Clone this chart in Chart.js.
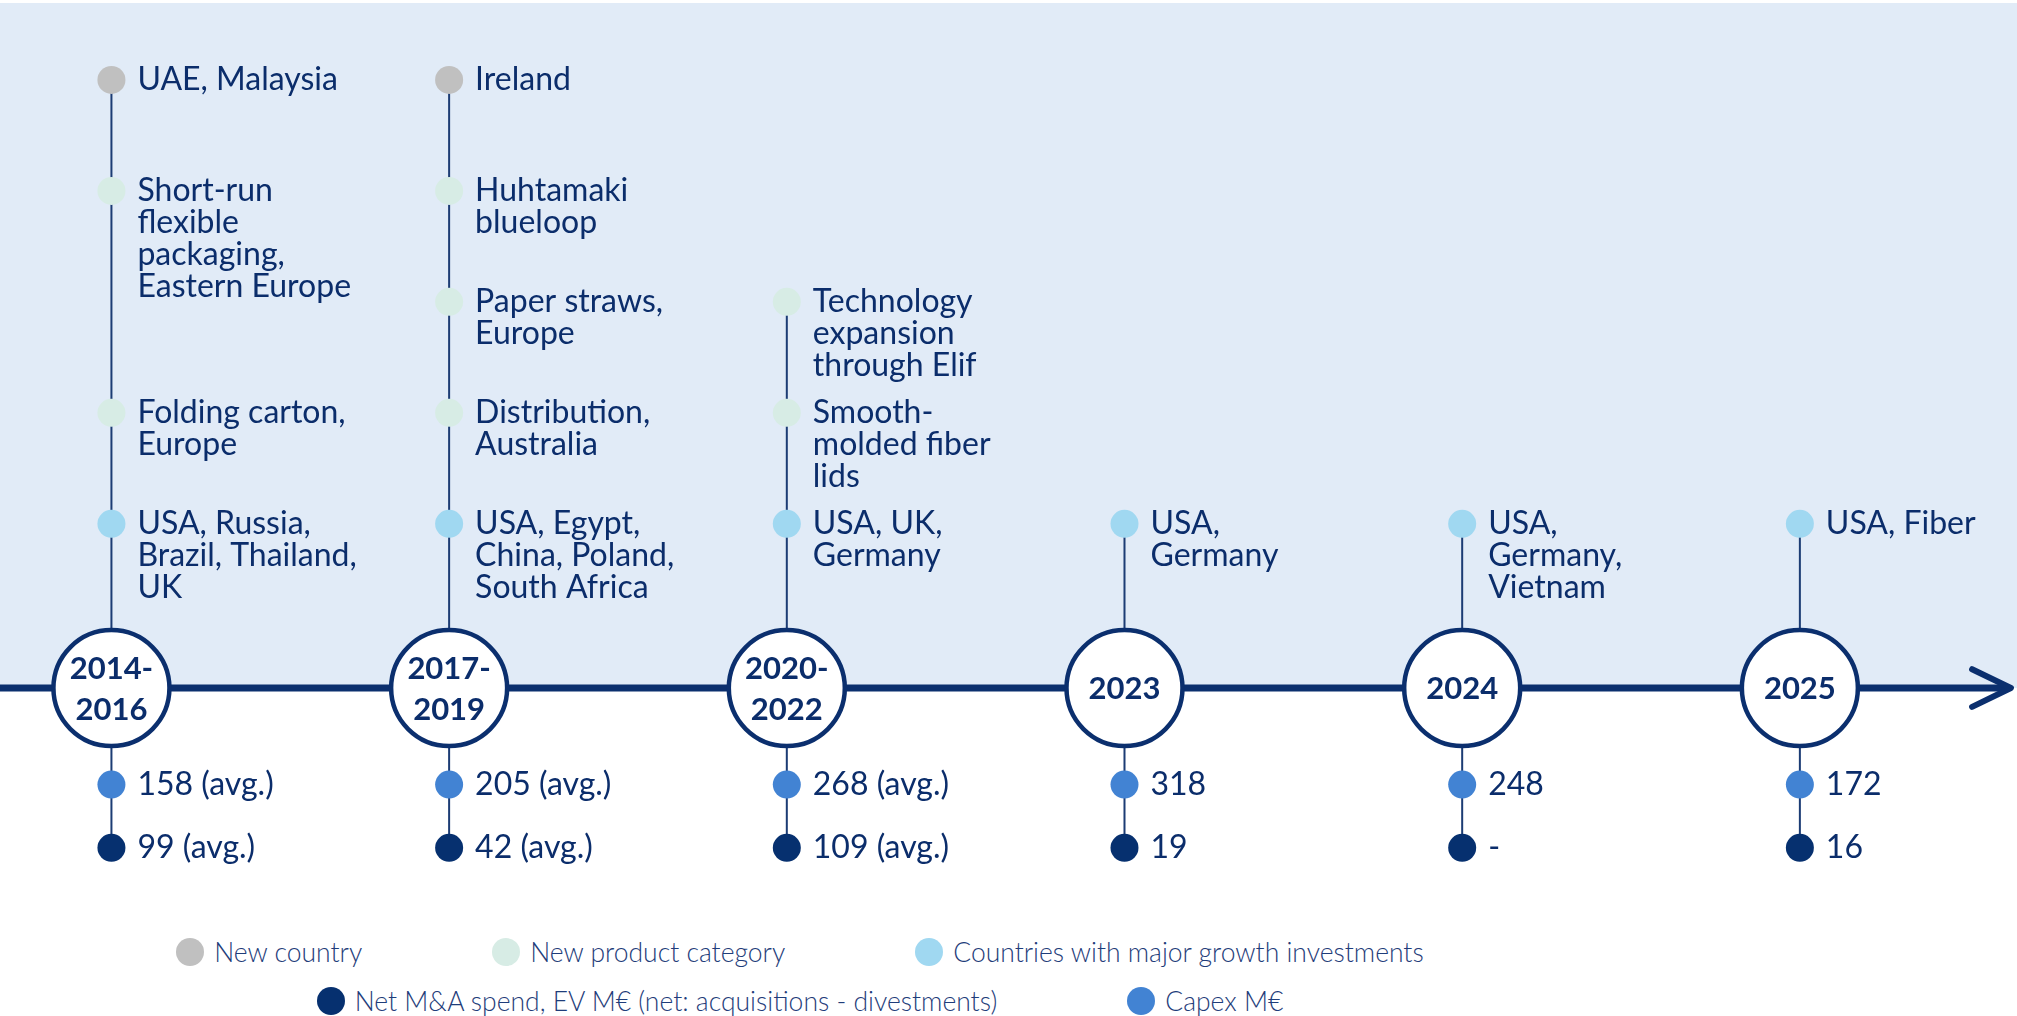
<!DOCTYPE html>
<html>
<head>
<meta charset="utf-8">
<script src="https://cdn.jsdelivr.net/npm/chart.js@4.4.1/dist/chart.umd.min.js"></script>
<style>
  html, body { margin: 0; padding: 0; background: #fff; }
  #wrap { width: 2017px; height: 1016px; position: relative; overflow: hidden; }
  #plot { position: absolute; left: 0; top: 0; width: 2017px; height: 920px; }
  #legend {
    position: absolute; left: 0; top: 937px; width: 1600px;
    display: flex; flex-wrap: wrap; justify-content: center;
    column-gap: 130px; row-gap: 19px;
    margin: 0; padding: 0; list-style: none;
    font-family: Lato, "Open Sans", sans-serif; font-weight: 300; font-size: 26.5px;
    color: #1F3D7A; line-height: 30px;
  }
  #legend li { display: flex; align-items: center; white-space: nowrap; }
  #legend .dot { width: 28px; height: 28px; border-radius: 50%; margin-right: 10px; flex: none; }
</style>
</head>
<body>
<div id="wrap">
  <div id="plot"><canvas id="timeline"></canvas></div>
  <ul id="legend"></ul>
</div>
<script>
// periods shown in the circles on the timeline
var periods = ['2014-2016', '2017-2019', '2020-2022', '2023', '2024', '2025'];

// Capex M€ and net M&A spend (EV M€) per period, null = none ("-")
var capex = [158, 205, 268, 318, 248, 172];
var netMA = [99, 42, 109, 19, null, 16];
var isAverage = [true, true, true, false, false, false];

// milestones: period index, row slot above the timeline (0 = top), label lines
var newCountry = [
    { period: 0, row: 0, text: ['UAE, Malaysia'] },
    { period: 1, row: 0, text: ['Ireland'] }
];
var newProductCategory = [
    { period: 0, row: 1, text: ['Short-run', 'flexible', 'packaging,', 'Eastern Europe'] },
    { period: 0, row: 3, text: ['Folding carton,', 'Europe'] },
    { period: 1, row: 1, text: ['Huhtamaki', 'blueloop'] },
    { period: 1, row: 2, text: ['Paper straws,', 'Europe'] },
    { period: 1, row: 3, text: ['Distribution,', 'Australia'] },
    { period: 2, row: 2, text: ['Technology', 'expansion', 'through Elif'] },
    { period: 2, row: 3, text: ['Smooth-', 'molded fiber', 'lids'] }
];
var growthInvestments = [
    { period: 0, row: 4, text: ['USA, Russia,', 'Brazil, Thailand,', 'UK'] },
    { period: 1, row: 4, text: ['USA, Egypt,', 'China, Poland,', 'South Africa'] },
    { period: 2, row: 4, text: ['USA, UK,', 'Germany'] },
    { period: 3, row: 4, text: ['USA,', 'Germany'] },
    { period: 4, row: 4, text: ['USA,', 'Germany,', 'Vietnam'] },
    { period: 5, row: 4, text: ['USA, Fiber'] }
];

// layout (in scale units)
var ROW_AXIS = 5.48;
var ROW_CAPEX = 6.35;
var ROW_MNA = 6.92;
var X_MIN = -0.33, X_MAX = 5.643;
var Y_MIN = -0.72, Y_MAX = 7.57;
var AXIS_END = 5.625;

var NAVY = '#0B2F6E';
var TEXT = '#0B2D6B';
var FONT = 'Lato, "Open Sans", sans-serif';

function eventPoints(list) {
    return list.map(function (e) { return { x: e.period, y: e.row }; });
}
function eventLabels(list) {
    return list.map(function (e) { return e.text; });
}
function periodLines(p) {
    var k = p.indexOf('-');
    return k > 0 ? [p.slice(0, k + 1), p.slice(k + 1)] : [p];
}

// vertical connector per period: from its top milestone down to the M&A dot
var connectorData = [];
periods.forEach(function (p, i) {
    var top = ROW_AXIS;
    newCountry.concat(newProductCategory, growthInvestments).forEach(function (e) {
        if (e.period === i && e.row < top) top = e.row;
    });
    connectorData.push({ x: i, y: top }, { x: i, y: ROW_MNA }, { x: i, y: null });
});

function dotSet(label, color, points, labels) {
    return {
        label: label,
        inLegend: true,
        data: points,
        labels: labels,
        showLine: false,
        pointStyle: 'circle',
        pointRadius: 14,
        backgroundColor: color,
        borderColor: color,
        borderWidth: 0,
        clip: false,
        order: 1
    };
}

var datasets = [
    dotSet('New country', '#C0C0C0', eventPoints(newCountry), eventLabels(newCountry)),
    dotSet('New product category', '#D7ECE5', eventPoints(newProductCategory), eventLabels(newProductCategory)),
    dotSet('Countries with major growth investments', '#A0D8F1', eventPoints(growthInvestments), eventLabels(growthInvestments)),
    dotSet('Net M&A spend, EV M€ (net: acquisitions - divestments)', '#06306F',
        periods.map(function (p, i) { return { x: i, y: ROW_MNA }; }),
        netMA.map(function (v, i) { return [v === null ? '-' : v + (isAverage[i] ? ' (avg.)' : '')]; })),
    dotSet('Capex M€', '#4283D3',
        periods.map(function (p, i) { return { x: i, y: ROW_CAPEX }; }),
        capex.map(function (v, i) { return [v + (isAverage[i] ? ' (avg.)' : '')]; })),
    {
        // period circles
        data: periods.map(function (p, i) { return { x: i, y: ROW_AXIS }; }),
        labels: periods.map(periodLines),
        labelCentered: true,
        showLine: false,
        pointStyle: 'circle',
        pointRadius: 58,
        backgroundColor: '#ffffff',
        borderColor: NAVY,
        borderWidth: 4.5,
        clip: false,
        order: 5
    },
    {
        // timeline arrow head
        data: [{ x: AXIS_END - 0.115, y: ROW_AXIS - 0.17 }, { x: AXIS_END, y: ROW_AXIS }, { x: AXIS_END - 0.115, y: ROW_AXIS + 0.17 }],
        showLine: true,
        pointRadius: 0,
        borderColor: NAVY,
        borderWidth: 6,
        borderCapStyle: 'round',
        borderJoinStyle: 'round',
        clip: false,
        order: 8
    },
    {
        // timeline
        data: [{ x: X_MIN, y: ROW_AXIS }, { x: AXIS_END - 0.01, y: ROW_AXIS }],
        showLine: true,
        pointRadius: 0,
        borderColor: NAVY,
        borderWidth: 7,
        clip: false,
        order: 9
    },
    {
        data: connectorData,
        showLine: true,
        spanGaps: false,
        pointRadius: 0,
        borderColor: '#1C3C74',
        borderWidth: 2,
        clip: false,
        order: 10
    }
];

var timelinePlugin = {
    id: 'timelineLabels',
    beforeDraw: function (chart) {
        var ctx = chart.ctx;
        var axisY = chart.scales.y.getPixelForValue(ROW_AXIS);
        ctx.save();
        ctx.fillStyle = '#ffffff';
        ctx.fillRect(0, 0, chart.width, chart.height);
        ctx.fillStyle = '#E1EBF7';
        ctx.fillRect(0, 3, chart.width, axisY - 3);
        ctx.restore();
    },
    afterDatasetsDraw: function (chart) {
        var ctx = chart.ctx;
        ctx.save();
        ctx.textBaseline = 'middle';
        ctx.fillStyle = TEXT;
        chart.data.datasets.forEach(function (ds, di) {
            if (!ds.labels) return;
            var meta = chart.getDatasetMeta(di);
            meta.data.forEach(function (pt, i) {
                var lines = ds.labels[i];
                if (ds.labelCentered) {
                    ctx.font = 'bold 31px ' + FONT;
                    ctx.textAlign = 'center';
                    var step = 41;
                    var y0 = pt.y - (lines.length - 1) * step / 2 + 1;
                    lines.forEach(function (t, k) { ctx.fillText(t, pt.x, y0 + k * step); });
                } else {
                    ctx.font = '32px ' + FONT;
                    ctx.textAlign = 'left';
                    lines.forEach(function (t, k) { ctx.fillText(t, pt.x + 26, pt.y + k * 32); });
                }
            });
        });
        ctx.restore();
    }
};

// legend built in HTML from the chart's own legend items
var htmlLegendPlugin = {
    id: 'htmlLegend',
    afterUpdate: function (chart) {
        var ul = document.getElementById('legend');
        while (ul.firstChild) ul.firstChild.remove();
        var items = chart.options.plugins.legend.labels.generateLabels(chart);
        items.forEach(function (item) {
            if (!chart.data.datasets[item.datasetIndex].inLegend) return;
            var li = document.createElement('li');
            var dot = document.createElement('span');
            dot.className = 'dot';
            dot.style.background = item.fillStyle;
            var txt = document.createElement('span');
            txt.textContent = item.text;
            li.appendChild(dot);
            li.appendChild(txt);
            ul.appendChild(li);
        });
    }
};

new Chart(document.getElementById('timeline'), {
    type: 'line',
    data: { datasets: datasets },
    options: {
        responsive: true,
        maintainAspectRatio: false,
        animation: false,
        events: [],
        layout: { padding: 0, autoPadding: false },
        scales: {
            x: {
                type: 'linear',
                display: false,
                bounds: 'data',
                afterDataLimits: function (scale) {
                    scale.min = X_MIN;
                    scale.max = X_MAX;
                }
            },
            y: {
                type: 'linear',
                display: false,
                reverse: true,
                bounds: 'data',
                afterDataLimits: function (scale) {
                    scale.min = Y_MIN;
                    scale.max = Y_MAX;
                }
            }
        },
        plugins: {
            tooltip: { enabled: false },
            legend: { display: false }
        }
    },
    plugins: [timelinePlugin, htmlLegendPlugin]
});
</script>
</body>
</html>
